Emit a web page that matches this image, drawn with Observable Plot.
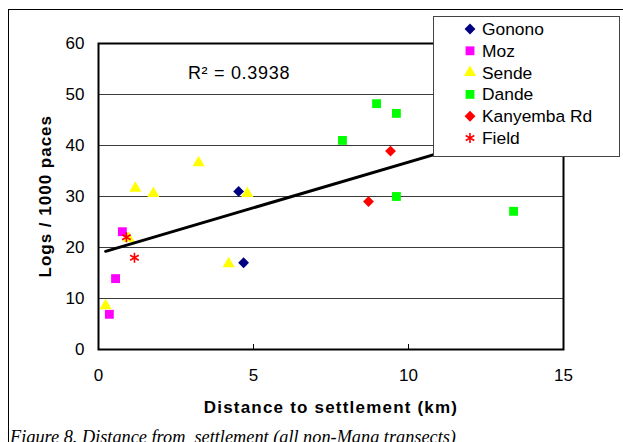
<!DOCTYPE html>
<html><head><meta charset="utf-8">
<script src="https://cdn.jsdelivr.net/npm/d3@7"></script>
<script src="https://cdn.jsdelivr.net/npm/@observablehq/plot@0.6"></script>
<style>
body{margin:0;background:#fff;}
#wrap{position:relative;width:623px;height:442px;overflow:hidden;background:#fff;font-family:"Liberation Sans",Arial,sans-serif;}
#outer{position:absolute;left:8px;top:9px;width:800px;height:800px;border-left:1px solid #000;border-top:1px solid #000;box-sizing:border-box;pointer-events:none}
#caption{position:absolute;left:10px;top:428px;font-family:"Liberation Serif","Times New Roman",serif;font-style:italic;font-size:18.3px;line-height:18px;white-space:pre;color:#000;}
</style></head>
<body><div id="wrap"></div>
<script>
// ---- data ----
const seriesNames = ["Gonono", "Moz", "Sende", "Dande", "Kanyemba Rd", "Field"];
const gononoX = [4.52, 4.68];
const gononoY = [31.0, 17.0];
const mozX = [0.77, 0.55, 0.35];
const mozY = [23.1, 13.9, 6.9];
const sendeX = [1.19, 1.77, 3.23, 4.80, 4.20, 0.23, 0.97];
const sendeY = [31.6, 30.6, 36.6, 30.6, 16.8, 8.6, 21.8];
const dandeX = [8.97, 9.61, 7.87, 9.61, 13.39];
const dandeY = [48.2, 46.3, 41.0, 30.0, 27.1];
const kanyembaX = [9.42, 8.71];
const kanyembaY = [38.9, 29.0];
const fieldX = [0.90, 1.16];
const fieldY = [22.0, 18.0];
const xTicks = [0, 5, 10, 15];
const xInnerTicks = [5, 10];
const yTicks = [0, 10, 20, 30, 40, 50, 60];
const yGrid = [10, 20, 30, 40, 50];
const r2Label = "R\u00B2 = 0.3938";
const xLabel = "Distance to settlement (km)";
const yLabel = "Logs / 1000 paces";
const captionText = "Figure 8. Distance from  settlement (all non-Mana transects)";

// ---- styling (not data) ----
const seriesStyle = {
  "Gonono":      {color: "#000080", symbol: "diamond2", r: 4.9, filled: true},
  "Moz":         {color: "#FF00FF", symbol: "square",   r: 5.0, filled: true},
  "Sende":       {color: "#FFFF00", symbol: "triangle", r: 4.5, filled: true},
  "Dande":       {color: "#00FF00", symbol: "square",   r: 5.0, filled: true},
  "Kanyemba Rd": {color: "#FF0000", symbol: "diamond2", r: 4.9, filled: true},
  "Field":       {color: "#FF0000", symbol: "asterisk", r: 4.7, filled: false}
};

const seriesX = [gononoX, mozX, sendeX, dandeX, kanyembaX, fieldX];
const seriesY = [gononoY, mozY, sendeY, dandeY, kanyembaY, fieldY];
const rows = seriesNames.flatMap((name, i) => seriesX[i].map((x, j) => ({series: name, x, y: seriesY[i][j]})));

const dotMarks = seriesNames.map(name => {
  const s = seriesStyle[name];
  const data = rows.filter(d => d.series === name);
  return s.filled
    ? Plot.dot(data, {x: "x", y: "y", symbol: s.symbol, r: s.r, fill: s.color, stroke: "none"})
    : Plot.dot(data, {x: "x", y: "y", symbol: s.symbol, r: s.r, fill: "none", stroke: s.color, strokeWidth: 1.6});
});

const chart = Plot.plot({
  width: 623,
  height: 442,
  marginLeft: 98,
  marginRight: 60,
  marginTop: 43,
  marginBottom: 93,
  style: {fontFamily: "'Liberation Sans', Arial, sans-serif", fontSize: "17px", background: "white", color: "black", overflow: "visible", position: "absolute", left: "0px", top: "0px"},
  x: {domain: [0, 15]},
  y: {domain: [0, 60]},
  marks: [
    Plot.gridY(yGrid, {stroke: "#3a3a3a", strokeOpacity: 1, strokeWidth: 1}),
    Plot.axisY(yTicks, {tickSize: 0, tickPadding: 14, label: null, fontSize: 17}),
    Plot.axisX(xTicks, {tickSize: 0, tickPadding: 19, label: null, fontSize: 17}),
    Plot.axisX(xInnerTicks, {tickSize: 5, dy: -5, tickFormat: () => "", label: null, stroke: "#000", strokeWidth: 1}),
    ...dotMarks,
    Plot.linearRegressionY(rows, {x: "x", y: "y", stroke: "#000", strokeWidth: 3, ci: 0}),
    Plot.frame({stroke: "#000", strokeWidth: 2}),
    Plot.text([r2Label], {text: d => d, frameAnchor: "top", dx: -92, dy: 23, fontSize: 18}),
    Plot.text([xLabel], {text: d => d, frameAnchor: "bottom", dy: 63, fontSize: 17, fontWeight: "bold"}),
    Plot.text([yLabel], {text: d => d, frameAnchor: "left", rotate: -90, dx: -53, dy: 81, fontSize: 17, fontWeight: "bold"})
  ]
});

const sel = d3.select(chart).selectAll("text");
sel.filter(function() { return this.textContent === xLabel; }).style("letter-spacing", "1.2px");
sel.filter(function() { return this.textContent === yLabel; }).style("letter-spacing", "1px");
sel.filter(function() { return this.textContent === r2Label; }).style("letter-spacing", "0.7px");

const wrap = document.getElementById("wrap");
wrap.appendChild(chart);

const outer = document.createElement("div");
outer.id = "outer";
wrap.appendChild(outer);

// legend
const symbolTypes = {diamond2: d3.symbolDiamond2, square: d3.symbolSquare, triangle: d3.symbolTriangle, asterisk: d3.symbolAsterisk};
const lw = 187, lh = 141;
const leg = d3.create("svg").attr("width", lw).attr("height", lh)
  .style("position", "absolute").style("left", "433px").style("top", "16px")
  .style("font-family", "'Liberation Sans', Arial, sans-serif").style("font-size", "17.4px");
leg.append("rect").attr("x", 0.5).attr("y", 0.5).attr("width", lw - 1).attr("height", lh - 1)
  .attr("fill", "#fff").attr("stroke", "#444").attr("stroke-width", 1);
seriesNames.forEach((name, i) => {
  const s = seriesStyle[name];
  const cy = 13 + i * 21.8;
  const g = leg.append("g").attr("transform", `translate(37,${cy})`);
  const p = g.append("path").attr("d", d3.symbol(symbolTypes[s.symbol], Math.PI * s.r * s.r)());
  if (s.filled) p.attr("fill", s.color); else p.attr("fill", "none").attr("stroke", s.color).attr("stroke-width", 1.6);
  leg.append("text").attr("x", 49).attr("y", cy).attr("dy", "0.35em").attr("fill", "#000").text(name);
});
wrap.appendChild(leg.node());

const cap = document.createElement("div");
cap.id = "caption";
cap.textContent = captionText;
wrap.appendChild(cap);
</script></body></html>
